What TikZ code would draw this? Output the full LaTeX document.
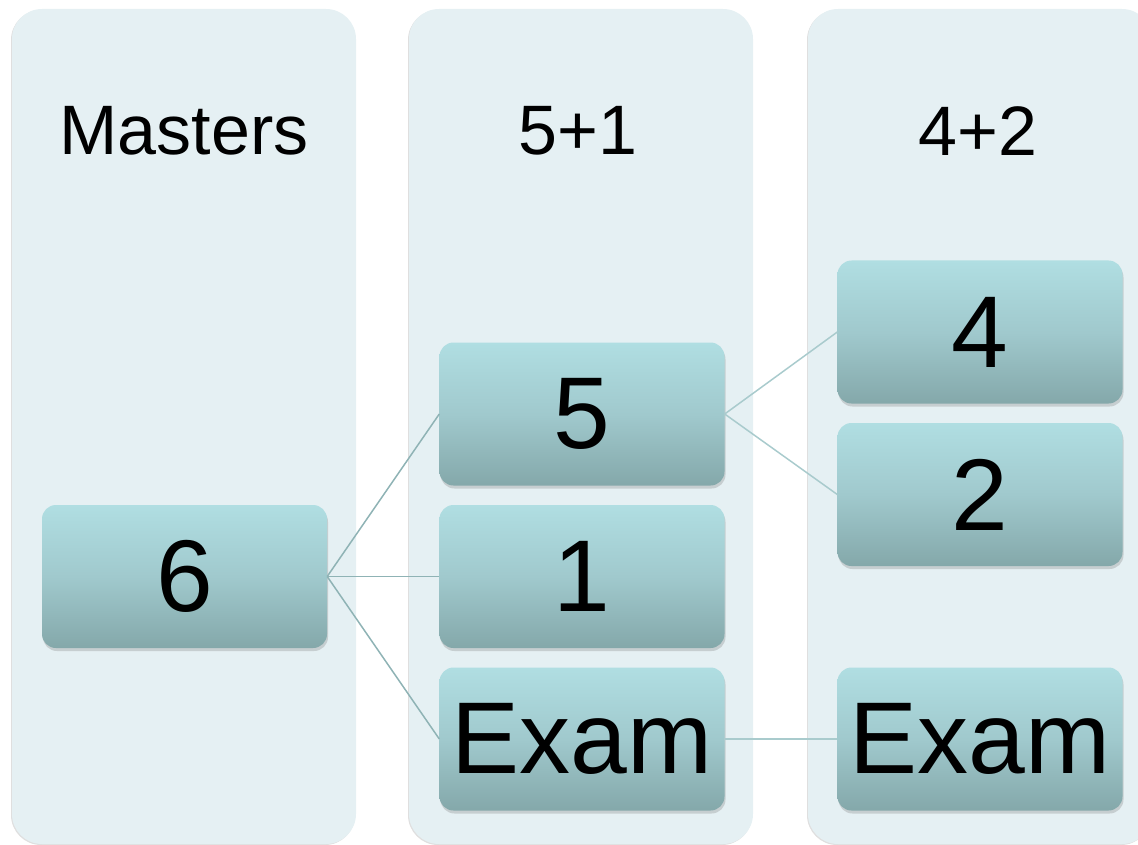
\documentclass[tikz,border=0pt]{standalone}
\usepackage{fontspec}
\setmainfont{Liberation Sans}
\usetikzlibrary{shadows}
\definecolor{panelfill}{HTML}{E5F0F3}
\definecolor{boxtop}{HTML}{B0DEE2}
\definecolor{boxmid}{HTML}{A0C9CD}
\definecolor{boxbot}{HTML}{84A8AA}
\definecolor{linkcol}{HTML}{8FB3B5}
\definecolor{linklight}{HTML}{A9CBCD}
\tikzset{
  panel/.style={draw=none, fill=panelfill, rounded corners=30pt, inner sep=0pt,
    minimum width=344pt, minimum height=835pt,
    drop shadow={opacity=0.25, shadow xshift=-1pt, shadow yshift=-1pt}},
  headtxt/.style={inner sep=0pt, font=\fontsize{70}{70}\selectfont},
  numbox/.style={draw=none, rounded corners=14pt, inner sep=0pt,
    minimum width=285pt, minimum height=143pt,
    top color=boxtop, bottom color=boxbot, middle color=boxmid,
    drop shadow={opacity=0.3, shadow xshift=1pt, shadow yshift=-3pt},
    font=\fontsize{102}{102}\selectfont},
  link/.style={draw=linkcol, line width=1.5pt},
  linkl/.style={draw=linklight, line width=1.5pt}
}
\begin{document}
\begin{tikzpicture}[x=1pt,y=-1pt]
\useasboundingbox (0,0) rectangle (1138,845);
\begin{scope}
\clip (0,0) rectangle (1138,845);
\node[panel] (panelA) at (184,426.5) {};
\node[panel] (panelB) at (581,426.5) {};
\node[panel] (panelC) at (980,426.5) {};
\end{scope}
\node[headtxt] (hA) at (184,131) {Masters};
\node[headtxt] (hB) at (578,131) {5+1};
\node[headtxt] (hC) at (978,131) {4+2};
\node[numbox] (six) at (184.5,576.5) {6};
\node[numbox] (five) at (582,414) {5};
\node[numbox] (one) at (582,576.5) {1};
\node[numbox] (examA) at (582,739) {Exam};
\node[numbox] (four) at (980,332) {4};
\node[numbox] (two) at (980,494.5) {2};
\node[numbox] (examB) at (980,739) {Exam};
\draw[link] (six.east) -- (five.west);
\draw[link] (six.east) -- (one.west);
\draw[link] (six.east) -- (examA.west);
\draw[linkl] (five.east) -- (four.west);
\draw[linkl] (five.east) -- (two.west);
\draw[linkl] (examA.east) -- (examB.west);
\end{tikzpicture}
\end{document}
